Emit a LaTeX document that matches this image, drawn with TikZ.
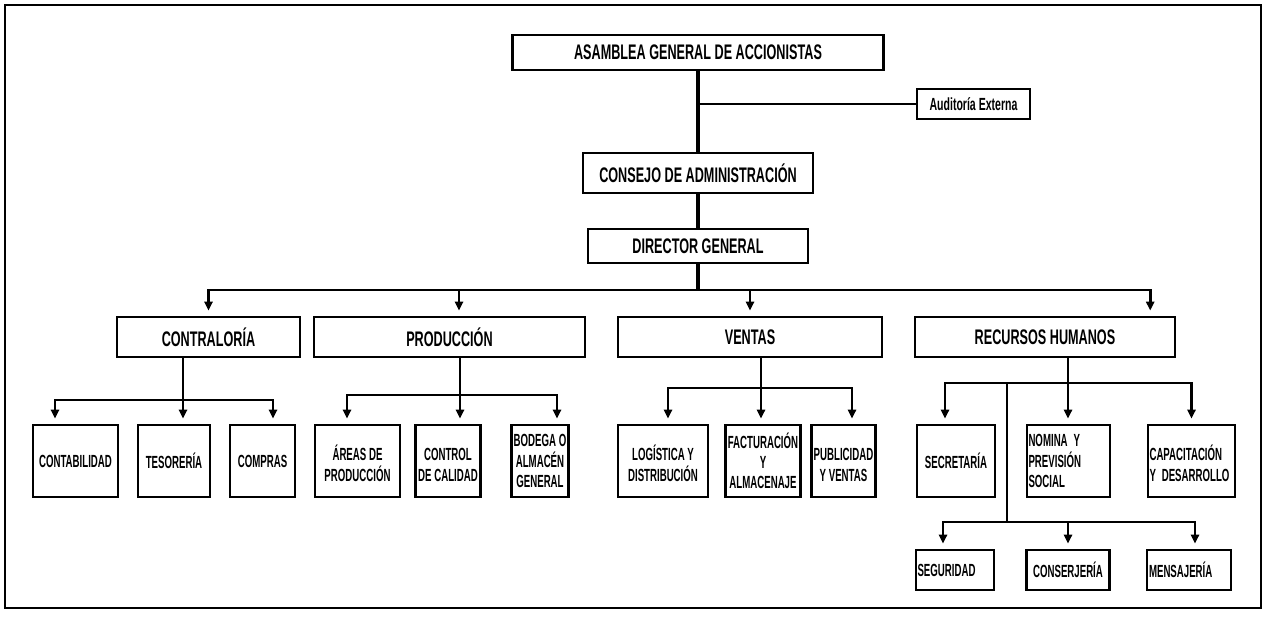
\documentclass[tikz,border=0pt]{standalone}
\usepackage{fontspec}
\newfontfamily\orgfont{Liberation Sans}[FakeStretch=0.6]
\newfontfamily\subfont{Liberation Sans}[FakeStretch=0.55]
\usetikzlibrary{calc, arrows.meta, positioning}

\begin{document}
\begin{tikzpicture}[
    x=0.02cm, y=-0.02cm,
    caja/.style={draw, line width=1.4pt, inner sep=1pt, minimum height=0.8cm, font=\orgfont\bfseries\fontsize{12}{14}\selectfont},
    subcaja/.style={draw, line width=1.4pt, inner sep=1pt, minimum height=1.44cm, align=center, font=\subfont\bfseries\fontsize{10}{11.5}\selectfont},
    tronco/.style={line width=2.2pt},
    linea/.style={line width=1.6pt},
    fina/.style={line width=1pt},
    delgada/.style={line width=0.6pt},
    flecha/.style={-{Triangle[length=5pt,width=4.6pt]}, line width=1.6pt, shorten >=3pt}
]
\useasboundingbox (0,0) rectangle (1267,616);
\draw[line width=1.2pt] (5,5) rectangle (1261,608);

% Main Nodes
\node[caja, minimum width=7.42cm, minimum height=0.7cm] (asamblea) at (698,52.5) {ASAMBLEA GENERAL DE ACCIONISTAS};
\node[caja, minimum width=2.26cm, minimum height=0.6cm, font=\orgfont\bfseries\fontsize{10}{12}\selectfont] (auditoria) at (973.5,104) {Auditoría Externa};
\node[caja, minimum width=4.6cm] (consejo) at (698,173) {CONSEJO DE ADMINISTRACIÓN};
\node[caja, minimum width=4.4cm, minimum height=0.68cm] (director) at (698,246) {DIRECTOR GENERAL};

% Areas
\node[caja, minimum width=3.66cm] (contraloria) at (208.5,337) {CONTRALORÍA};
\node[caja, minimum width=5.42cm] (produccion) at (449.5,337) {PRODUCCIÓN};
\node[caja, minimum width=5.28cm] (ventas) at (750,337) {VENTAS};
\node[caja, minimum width=5.2cm] (rrhh) at (1045,337) {RECURSOS HUMANOS};

% Departments
\node[subcaja, minimum width=1.7cm] (contabilidad) at (75.5,461) {CONTABILIDAD};
\node[subcaja, minimum width=1.44cm] (tesoreria) at (174,461) {TESORERÍA};
\node[subcaja, minimum width=1.3cm] (compras) at (262.5,461) {COMPRAS};
\node[subcaja, minimum width=1.7cm] (areas) at (357.5,461) {\mbox{}\\ÁREAS DE\\PRODUCCIÓN};
\node[subcaja, minimum width=1.3cm] (control) at (448,461) {\mbox{}\\CONTROL\\DE CALIDAD};
\node[subcaja, minimum width=1.14cm] (bodega) at (540,461) {BODEGA O\\ALMACÉN\\GENERAL};
\node[subcaja, minimum width=1.8cm] (logistica) at (663,461) {\mbox{}\\LOGÍSTICA Y\\DISTRIBUCIÓN};
\node[subcaja, minimum width=1.5cm] (facturacion) at (763,461) {FACTURACIÓN\\Y\\ALMACENAJE};
\node[subcaja, minimum width=1.28cm] (publicidad) at (843.5,461) {\mbox{}\\PUBLICIDAD\\Y VENTAS};
\node[subcaja, minimum width=1.56cm] (secretaria) at (956,461) {SECRETARÍA};
\node[subcaja, text width=1.6cm, align=left] (nomina) at (1068.5,461) {NOMINA Y\\PREVISIÓN\\SOCIAL};
\node[subcaja, text width=1.68cm, align=left] (capacitacion) at (1191.5,461) {\mbox{}\\CAPACITACIÓN\\Y DESARROLLO};
\node[subcaja, text width=1.5cm, minimum height=0.8cm, align=left] (seguridad) at (955,570) {SEGURIDAD};
\node[subcaja, minimum width=1.66cm, minimum height=0.8cm] (conserjeria) at (1068,570) {CONSERJERÍA};
\node[subcaja, text width=1.6cm, minimum height=0.8cm, align=left] (mensajeria) at (1189,570) {MENSAJERÍA};

% Trunk
\coordinate (bus) at (698,290);
\draw[tronco] (asamblea) -- (consejo);
\draw[tronco] (consejo) -- (director);
\draw[tronco] (director) -- (bus);
\draw[fina] (asamblea.south |- auditoria.west) -- (auditoria);

% Arrows to the areas
\draw[flecha] (bus) -| (contraloria.north);
\draw[flecha] (bus) -| ($(produccion.north)+(9.5,0)$);
\draw[flecha] (bus) -| (ventas.north);
\draw[flecha] (bus) -| ($(rrhh.north east)+(-26,0)$);

% Contraloria
\coordinate (bcon) at (183,400);
\draw[linea] (contraloria.south -| bcon) -- (bcon);
\draw[flecha] (bcon) -| ($(contabilidad.north)+(-20.5,0)$);
\draw[flecha] (bcon) -- (tesoreria.north -| bcon);
\draw[flecha] (bcon) -| ($(compras.north)+(10.5,0)$);

% Produccion
\coordinate (bpro) at (460,395);
\draw[linea] (produccion.south -| bpro) -- (bpro);
\draw[flecha] (bpro) -| ($(areas.north)+(-10.5,0)$);
\draw[flecha] (bpro) -- (control.north -| bpro);
\draw[flecha] (bpro) -| ($(bodega.north)+(17,0)$);

% Ventas
\coordinate (bven) at (761,388);
\draw[linea] (ventas.south -| bven) -- (bven);
\draw[flecha] (bven) -| ($(logistica.north)+(5,0)$);
\draw[flecha] (bven) -- (facturacion.north -| bven);
\draw[flecha] (bven) -| ($(publicidad.north)+(8.5,0)$);

% Recursos humanos
\coordinate (brh) at (1068,383);
\coordinate (baux) at (1007,383);
\coordinate (bser) at (1007,522);
\draw[linea] (rrhh.south -| brh) -- (brh);
\draw[flecha] (brh) -| ($(secretaria.north)+(-11,0)$);
\draw[flecha] (brh) -- (nomina.north -| brh);
\draw[flecha] (brh) -| (capacitacion.north);
\draw[delgada] (baux) -- (bser);
\draw[flecha] (bser) -| ($(seguridad.north)+(-12,0)$);
\draw[flecha] (bser) -| (conserjeria.north);
\draw[flecha] (bser) -| ($(mensajeria.north)+(6,0)$);
\end{tikzpicture}
\end{document}
